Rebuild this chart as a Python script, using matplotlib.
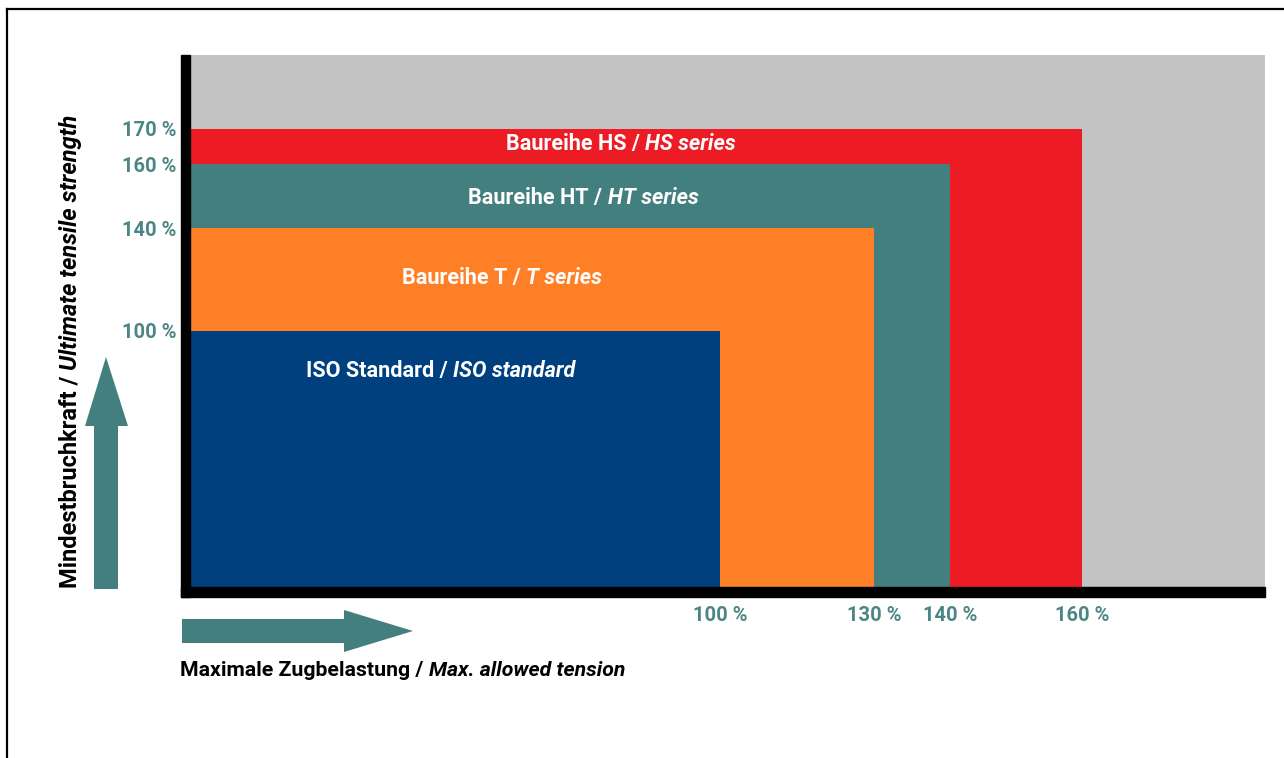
import numpy as np
import matplotlib
matplotlib.use("Agg")
import matplotlib.pyplot as plt
from matplotlib.patches import Rectangle, Polygon
from matplotlib.lines import Line2D
from matplotlib.offsetbox import TextArea, HPacker, AnnotationBbox

# rope series: max allowed tension (x) and ultimate tensile strength (y), in %
series_de = ["Baureihe HS", "Baureihe HT", "Baureihe T", "ISO Standard"]
series_en = ["HS series", "HT series", "T series", "ISO standard"]
max_tension = [160, 140, 130, 100]
min_break = [170, 160, 140, 100]
colors = ["#ed1c24", "#447f7f", "#ff7f27", "#00407f"]

xticks = [100, 130, 140, 160]
yticks = [100, 140, 160, 170]

W, H = 1284, 758
FONT = ["Roboto", "DejaVu Sans"]
TEAL = "#447f7f"
TICK_COL = "#4b8585"

def px(x, y):
    return (x / W, 1 - y / H)

fig = plt.figure(figsize=(W / 100, H / 100), dpi=100)
ax = fig.add_axes([190 / W, 1 - 587 / H, 1075 / W, 532 / H])
ax.set_facecolor("#c3c3c3")

# the diagram is schematic, not to scale -> piecewise scale through the tick values
xk_val = [0, 100, 130, 140, 160, 185]
xk_frac = [(p - 190) / 1075 for p in [190, 720, 874, 950, 1082, 1265]]
yk_val = [0, 100, 140, 160, 170, 190]
yk_frac = [(587 - p) / 532 for p in [587, 331, 228, 164, 129, 55]]

ax.set_xscale("function", functions=(lambda v: np.interp(v, xk_val, xk_frac),
                                     lambda f: np.interp(f, xk_frac, xk_val)))
ax.set_yscale("function", functions=(lambda v: np.interp(v, yk_val, yk_frac),
                                     lambda f: np.interp(f, yk_frac, yk_val)))
ax.set_xlim(0, 185)
ax.set_ylim(0, 190)

for w, h, c in zip(max_tension, min_break, colors):
    ax.bar(0, h, width=w, align="edge", color=c, linewidth=0)

for s in ax.spines.values():
    s.set_visible(False)

ax.set_xticks(xticks, labels=[f"{v} %" for v in xticks])
ax.set_yticks(yticks, labels=[f"{v} %" for v in yticks])
ax.tick_params(length=0)
ax.tick_params(axis="x", pad=14)
ax.tick_params(axis="y", pad=10)
for lab in ax.get_xticklabels() + ax.get_yticklabels():
    lab.set_family(FONT)
    lab.set_fontweight("bold")
    lab.set_fontsize(14.5)
    lab.set_color(TICK_COL)
for lab in ax.get_yticklabels():
    lab.set_va("center_baseline")

def two_part(x, y, regular, italic, color, size, align, coords):
    a = TextArea(regular + " / ", textprops=dict(color=color, fontsize=size, fontweight="bold", family=FONT))
    b = TextArea(italic, textprops=dict(color=color, fontsize=size, fontweight="bold",
                                        fontstyle="italic", family=FONT))
    box = HPacker(children=[a, b], align="baseline", pad=0, sep=0)
    ab = AnnotationBbox(box, (x, y), xycoords=coords, frameon=False,
                        box_alignment=align, pad=0)
    fig.add_artist(ab) if coords == "figure fraction" else ax.add_artist(ab)

# label positions inside the plot (axes fraction)
label_pos = [(0.401, 0.832), (0.366, 0.731), (0.290, 0.580), (0.233, 0.406)]
for (lx, ly), de, en in zip(label_pos, series_de, series_en):
    two_part(lx, ly, de, en, "white", 15.6, (0.5, 0.5), "axes fraction")

# x axis title
two_part(*px(180, 670), "Maximale Zugbelastung", "Max. allowed tension", "black",
         15.3, (0, 0.5), "figure fraction")

# thick black axis lines
fig.patches.append(Rectangle(px(181, 597), 9 / W, 542 / H, transform=fig.transFigure,
                             color="black", zorder=3))
fig.patches.append(Rectangle(px(181, 597), 1084 / W, 10 / H, transform=fig.transFigure,
                             color="black", zorder=3))

# fat arrows
up = [(94, 589), (118, 589), (118, 426), (128, 426), (106, 357), (85, 426), (94, 426)]
right = [(182, 619), (344, 619), (344, 610), (413, 631), (344, 652), (344, 643), (182, 643)]
for pts in (up, right):
    fig.patches.append(Polygon([px(x, y) for x, y in pts], closed=True,
                               transform=fig.transFigure, color=TEAL, linewidth=0))

# frame lines (top and left)
fig.add_artist(Line2D([7 / W, 1], [1 - 9 / H, 1 - 9 / H], color="black", linewidth=1.6,
                      transform=fig.transFigure))
fig.add_artist(Line2D([7 / W, 7 / W], [0, 1 - 9 / H], color="black", linewidth=1.6,
                      transform=fig.transFigure))

# vertical title, two styles stacked along the baseline
t1 = fig.text(*px(77, 588), "Mindestbruchkraft / ", rotation=90, rotation_mode="anchor",
              ha="left", va="baseline", fontsize=17, fontweight="bold", family=FONT)
fig.canvas.draw()
bb = t1.get_window_extent()
fig.text(*px(77, 588 - bb.height), "Ultimate tensile strength", rotation=90,
         rotation_mode="anchor", ha="left", va="baseline", fontsize=17,
         fontweight="bold", fontstyle="italic", family=FONT)

fig.savefig("out.png", dpi=100)
